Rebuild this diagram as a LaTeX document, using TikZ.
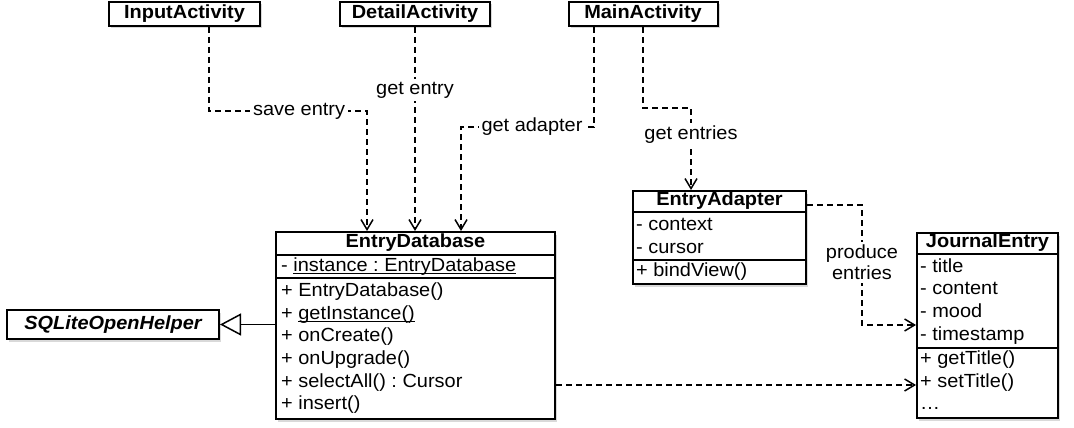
\documentclass[tikz,border=0pt]{standalone}
\usepackage{fontspec}
\setmainfont{Liberation Sans}[FakeStretch=1.05]
\usetikzlibrary{arrows.meta,shadows}
\newcommand\myul[1]{\leavevmode\setbox0=\hbox{#1}\rlap{\rule[-2.3pt]{\wd0}{1pt}}\box0}
\begin{document}
\frenchspacing
\begin{tikzpicture}[x=1pt,y=-1pt,
  font=\fontsize{19}{21}\selectfont,
  cls/.style={draw, line width=2pt, fill=white, inner sep=0pt,
    drop shadow={shadow xshift=2pt,shadow yshift=-2.5pt,opacity=0.3}},
  divider/.style={line width=1.8pt},
  row/.style={anchor=west, inner sep=0pt, text height=13.5pt, text depth=4pt},
  ttl/.style={inner sep=0pt, text height=13.5pt, text depth=4pt, font=\fontsize{19}{21}\selectfont\bfseries},
  dep/.style={line width=1.5pt, dash pattern=on 6pt off 4pt,
    -{Straight Barb[length=10pt,width=12pt,line width=1.5pt]}},
  lbl/.style={fill=white, inner sep=3pt},
  inherit/.style={line width=1.8pt, -{Triangle[open,length=21pt,width=22pt,line width=1.5pt]}}
]
\useasboundingbox (0,0) rectangle (1074,428);

% activities
\node[cls, minimum width=151pt, minimum height=24pt, font=\fontsize{19}{21}\selectfont\bfseries] (input) at (184.5,14) {InputActivity};
\node[cls, minimum width=150pt, minimum height=24pt, font=\fontsize{19}{21}\selectfont\bfseries] (detail) at (415,14) {DetailActivity};
\node[cls, minimum width=149pt, minimum height=24pt, font=\fontsize{19}{21}\selectfont\bfseries] (main) at (643,14) {MainActivity};

% SQLiteOpenHelper
\node[cls, minimum width=212pt, minimum height=29pt, font=\fontsize{19}{21}\selectfont\bfseries\itshape] (sql) at (113,324.5) {SQLiteOpenHelper};

% EntryDatabase
\node[cls, anchor=north west, minimum width=279pt, minimum height=187pt] (db) at (275,231) {};
\draw[divider] (db.west |- 0,255) -- (db.east |- 0,255);
\draw[divider] (db.west |- 0,278) -- (db.east |- 0,278);
\node[ttl] (dbt) at (db.north |- 0,243) {EntryDatabase};
\node[row] (db0) at (281,267) {- \myul{instance : EntryDatabase}};
\node[row] (db1) at (281,292) {+ EntryDatabase()};
\node[row] (db2) at (281,315) {+ \myul{getInstance()}};
\node[row] (db3) at (281,337) {+ onCreate()};
\node[row] (db4) at (281,360) {+ onUpgrade()};
\node[row] (db5) at (281,383) {+ selectAll() : Cursor};
\node[row] (db6) at (281,405) {+ insert()};

% EntryAdapter
\node[cls, anchor=north west, minimum width=173pt, minimum height=93pt] (adapter) at (632,190) {};
\draw[divider] (adapter.west |- 0,212) -- (adapter.east |- 0,212);
\draw[divider] (adapter.west |- 0,260) -- (adapter.east |- 0,260);
\node[ttl] (adt) at (adapter.north |- 0,201) {EntryAdapter};
\node[row] (ad1) at (636,226) {- context};
\node[row] (ad2) at (636,249) {- cursor};
\node[row] (ad3) at (636,272) {+ bindView()};

% JournalEntry
\node[cls, anchor=north west, minimum width=141pt, minimum height=185pt] (journal) at (916,232) {};
\draw[divider] (journal.west |- 0,254) -- (journal.east |- 0,254);
\draw[divider] (journal.west |- 0,348) -- (journal.east |- 0,348);
\node[ttl] (jet) at (journal.north |- 0,243) {JournalEntry};
\node[row] (je1) at (920,268) {- title};
\node[row] (je2) at (920,290) {- content};
\node[row] (je3) at (920,313) {- mood};
\node[row] (je4) at (920,336) {- timestamp};
\node[row] (je5) at (920,360) {+ getTitle()};
\node[row] (je6) at (920,383) {+ setTitle()};
\node[row] (je7) at (920,405) {…};

% connectors
\draw[dep] (input.south -| 209,0) |- node[lbl,pos=0.785]{save entry} (367,111) -- (db.north -| 367,0);
\draw[dep] (detail.south) -- node[lbl,pos=0.31]{get entry} (db.north -| detail.south);
\draw[dep] (main.south -| 594,0) |- node[lbl,pos=0.733]{get adapter} (461,127) -- (db.north -| 461,0);
\draw[dep] (main.south) |- (691,108) -- node[lbl,pos=0.33]{get entries} (adapter.north -| 691,0);
\draw[dep] (adapter.east |- 0,205) -- (862,205) -- node[lbl,align=center,pos=0.48]{produce\\entries} (862,325) -- (journal.west |- 0,325);
\draw[dep] (db.east |- 0,385) -- (journal.west |- 0,385);
\draw[inherit] (db.west |- 0,324.5) -- (sql.east);
\end{tikzpicture}
\end{document}
